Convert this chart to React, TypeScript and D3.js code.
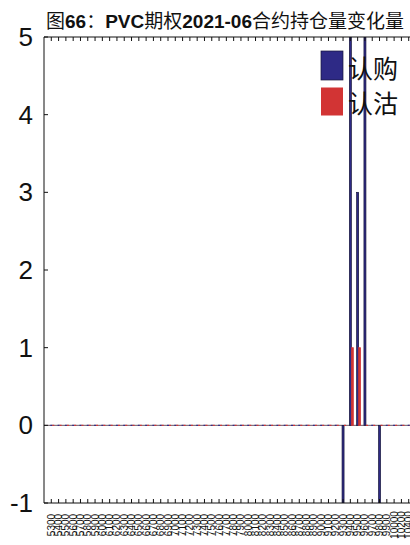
import React from "react";
import * as d3 from "d3";

const strikes: string[] = [
  ...d3.range(5300, 10000, 100).map(String),
  "10000", "10200", "10400",
];
const callChange: number[] = strikes.map(() => 0);
const putChange: number[] = strikes.map(() => 0);
// values (indices by strike)
const callValues: [string, number][] = [["9300", -3], ["9400", 8], ["9500", 3], ["9600", 7], ["9800", -2]];
const putValues: [string, number][] = [["9400", 1], ["9500", 1]];
callValues.forEach(([k, v]) => { callChange[strikes.indexOf(k)] = v; });
putValues.forEach(([k, v]) => { putChange[strikes.indexOf(k)] = v; });
const yTicks: number[] = [-1, 0, 1, 2, 3, 4, 5];
const seriesNames: string[] = ["认购", "认沽"];

const W = 410, H = 545;
const left = 44, right = 416, top = 37, bottom = 503;
const BLUE = "#2E2A86";
const RED = "#D23434";
const FONT = "'Liberation Sans', Arial, sans-serif";
const CJK = "'Noto Sans CJK SC', sans-serif";

export default function App() {
  const x = d3.scalePoint<string>().domain(strikes).range([left, right]).padding(1);
  const y = d3.scaleLinear().domain([-1, 5]).range([bottom, top]);
  const y0 = y(0);
  const bw = 2;

  const bar = (v: number, cx: number, color: string, stroke: string, key: string) => {
    if (v === 0) {
      return <line key={key} x1={cx} x2={cx + bw} y1={y0} y2={y0} stroke={color} strokeWidth={1.2} />;
    }
    const yv = y(v);
    return (
      <rect key={key} x={cx} width={bw} y={Math.min(yv, y0)} height={Math.abs(yv - y0)}
        fill={color} stroke={stroke} strokeWidth={0.7} />
    );
  };

  return (
    <div style={{ position: "fixed", left: 0, top: 0 }}>
      <svg width={W} height={H} style={{ display: "block", background: "#fff" }}>
        <defs>
          <clipPath id="plot">
            <rect x={left} y={top} width={right - left} height={bottom - top} />
          </clipPath>
        </defs>
        {/* title */}
        <text x={46} y={28} fontSize={19} fill="#111" fontFamily={CJK}>
          <tspan>图</tspan>
          <tspan fontFamily={FONT} fontWeight="bold">66</tspan>
          <tspan>：</tspan>
          <tspan fontFamily={FONT} fontWeight="bold">PVC</tspan>
          <tspan>期权</tspan>
          <tspan fontFamily={FONT} fontWeight="bold">2021-06</tspan>
          <tspan>合约持仓量变化量</tspan>
        </text>

        {/* baseline */}
        <line x1={left} x2={right} y1={y0} y2={y0} stroke="#6a5a66" strokeWidth={1} />

        {/* bars */}
        <g clipPath="url(#plot)">
          {strikes.map((s, i) => {
            const c = x(s)!;
            return (
              <g key={s}>
                {bar(callChange[i], c - 1, BLUE, "#15143a", "c" + s)}
                {bar(putChange[i], c + 1, RED, "#d23434", "p" + s)}
              </g>
            );
          })}
        </g>

        {/* frame */}
        <line x1={left} x2={right} y1={top} y2={top} stroke="#111" strokeWidth={1} />
        <line x1={left} x2={right} y1={bottom} y2={bottom} stroke="#111" strokeWidth={1} />
        <line x1={left} x2={left} y1={top} y2={bottom} stroke="#111" strokeWidth={1} />
        {strikes.map((s) => {
          const c = x(s)!;
          return (
            <g key={"t" + s}>
              <line x1={c} x2={c} y1={top} y2={top + 4} stroke="#111" strokeWidth={1} />
              <line x1={c} x2={c} y1={bottom} y2={bottom - 4} stroke="#111" strokeWidth={1} />
            </g>
          );
        })}
        {yTicks.map((t) => (
          <g key={"y" + t}>
            <line x1={left} x2={left + 4} y1={y(t)} y2={y(t)} stroke="#111" strokeWidth={1} />
            <text x={33} y={y(t)} fontSize={26} fontFamily={FONT} textAnchor="end"
              dominantBaseline="central" fill="#111">{t}</text>
          </g>
        ))}

        {/* x labels */}
        {strikes.map((s) => {
          const c = x(s)!;
          return (
            <text key={"l" + s} transform={`translate(${c},525) rotate(-90)`} fontSize={10}
              fontFamily={FONT} textAnchor="middle" dominantBaseline="central" fill="#111">{s}</text>
          );
        })}

        {/* legend */}
        <rect x={321} y={51} width={22} height={29} fill={BLUE} stroke="#15143a" strokeWidth={0.7} />
        <rect x={321} y={87.5} width={22} height={28} fill={RED} />
        <text x={348} y={67} fontSize={25} fontFamily={CJK} dominantBaseline="central" fill="#111">{seriesNames[0]}</text>
        <text x={348} y={102} fontSize={25} fontFamily={CJK} dominantBaseline="central" fill="#111">{seriesNames[1]}</text>
      </svg>
    </div>
  );
}
